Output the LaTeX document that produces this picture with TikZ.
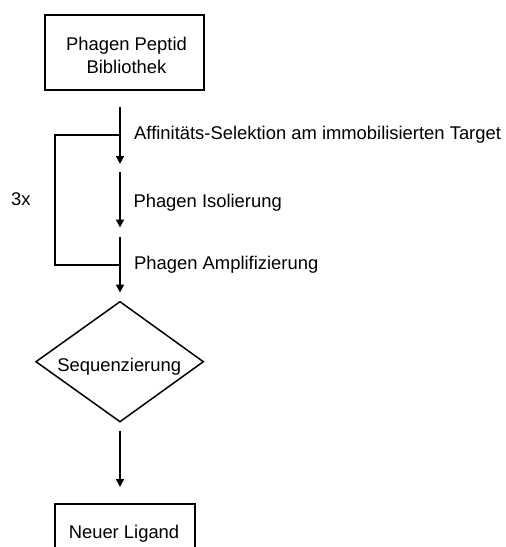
\documentclass[tikz,border=0pt]{standalone}
\usepackage{fontspec}
\setmainfont{Liberation Sans}
\usetikzlibrary{arrows.meta}
\begin{document}
\begin{tikzpicture}[x=1pt,y=-1pt,
  txt/.style={font=\fontsize{18.4}{23}\selectfont, inner sep=0pt},
  lbl/.style={txt, anchor=base west},
  arr/.style={line width=1.5pt, -{Triangle[length=8pt,width=8pt]}},
  ln/.style={line width=1.5pt},
  boxstyle/.style={draw, line width=2.3pt}]
\useasboundingbox (0,0) rectangle (506,547);
\begin{scope}
\clip (0,0) rectangle (506,547);
\draw[boxstyle] (45,15) rectangle (204,90);
\draw[boxstyle] (55,504) rectangle (195,575);
\end{scope}
\node[txt, anchor=base] (lib1) at (126.5,50.7) {Phagen Peptid};
\node[txt, anchor=base] (lib2) at (126.5,73.3) {Bibliothek};
\node[txt, anchor=base] (lig) at (124,538.3) {Neuer Ligand};
\coordinate (a1s) at (120,107);
\coordinate (a1e) at (120,164);
\coordinate (a2s) at (120,172);
\coordinate (a2e) at (120,227.5);
\coordinate (a3s) at (120,236.7);
\coordinate (a3e) at (120,292.5);
\coordinate (b1) at (120,135);
\coordinate (b2) at (120,265);
\coordinate (bl1) at (55,135);
\coordinate (bl2) at (55,265);
\draw[arr] (a1s) -- (a1e);
\draw[arr] (a2s) -- (a2e);
\draw[arr] (a3s) -- (a3e);
\draw[ln] (b1) -- (bl1) -- (bl2) -- (b2);
\node[lbl] (t1) at (134,139.8) {Affinitäts-Selektion am immobilisierten Target};
\node[lbl] (t2) at (133.3,207) {Phagen Isolierung};
\node[lbl] (t3) at (134,269.8) {Phagen Amplifizierung};
\node[lbl] (t4) at (11,205) {3x};
\coordinate (dt) at (120,301.7);
\coordinate (dl) at (36,361.7);
\coordinate (dr) at (203.3,361.7);
\coordinate (db) at (120,421.7);
\draw[line width=1.5pt, line join=miter] (dt) -- (dr) -- (db) -- (dl) -- cycle;
\node[txt, anchor=base] (seq) at (119.2,371.5) {Sequenzierung};
\coordinate (a4s) at (120,430.7);
\coordinate (a4e) at (120,487);
\draw[arr] (a4s) -- (a4e);
\end{tikzpicture}
\end{document}
